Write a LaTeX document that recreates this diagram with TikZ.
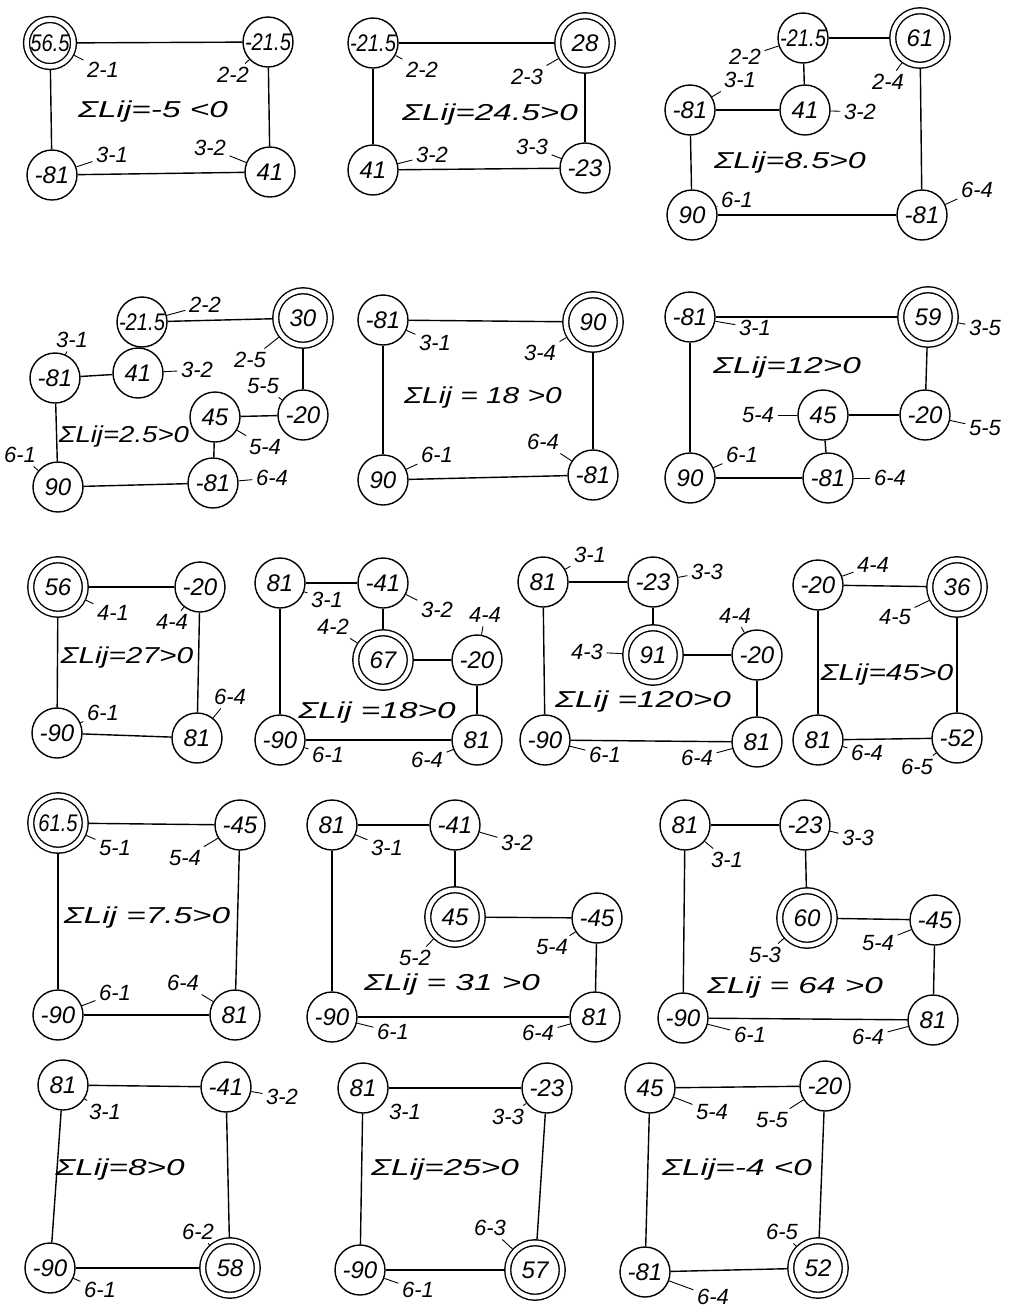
\documentclass[tikz,border=0pt]{standalone}
\usepackage{fontspec}
\setmainfont{Liberation Sans}
\usetikzlibrary{positioning}
\newcommand{\suml}[2][1.45]{\scalebox{#1}[1]{ΣLij#2}}
\newcommand{\narrow}[1]{\scalebox{0.84}[1]{#1}}

\begin{document}
\begin{tikzpicture}[x=1pt, y=-1pt, line width=1.4pt,
    every node/.style={font=\fontsize{22}{24}\selectfont\itshape, inner sep=2pt},
    vtx/.style={circle, draw, minimum size=50pt, inner sep=0pt, font=\fontsize{24}{26}\selectfont\itshape},
    dbl/.style={circle, draw, double, double distance=4.5pt, minimum size=54.5pt, inner sep=0pt, outer sep=3.6pt, font=\fontsize{24}{26}\selectfont\itshape},
    lbl/.style={inner sep=3pt},
    sumtxt/.style={inner sep=1pt, font=\fontsize{23}{25}\selectfont\itshape},
    leader/.style={line width=0.9pt}]
    \useasboundingbox (0,0) rectangle (1010,1310);

    % ---------- Row 1 ----------
    % Nodes
    \node[dbl, minimum size=47pt] (d1a) at (50,43) {\narrow{56.5}};
    \node[vtx] (d1b) at (268,42) {\narrow{-21.5}};
    \node[vtx] (d1c) at (52,175) {-81};
    \node[vtx] (d1d) at (270,172) {41};
    \draw (d1a) -- (d1b); \draw (d1a) -- (d1c);
    \draw (d1b) -- (d1d); \draw (d1c) -- (d1d);
    \node[lbl] (d1t1) at (103,70) {2-1};
    \node[lbl] (d1t2) at (233,75) {2-2};
    \node[lbl] (d1t3) at (112,155) {3-1};
    \node[lbl] (d1t4) at (210,148) {3-2};
    \draw[leader] (d1a) -- (d1t1); \draw[leader] (d1b) -- (d1t2);
    \draw[leader] (d1c) -- (d1t3); \draw[leader] (d1d) -- (d1t4);
    \node[sumtxt] (d1s) at (153,112) {\suml{=-5 <0}};

    \node[vtx] (d2a) at (373,43) {\narrow{-21.5}};
    \node[dbl] (d2b) at (585,43) {28};
    \node[vtx] (d2c) at (373,170) {41};
    \node[vtx] (d2d) at (585,168) {-23};
    \draw (d2a) -- (d2b); \draw (d2a) -- (d2c);
    \draw (d2b) -- (d2d); \draw (d2c) -- (d2d);
    \node[lbl] (d2t1) at (422,70) {2-2};
    \node[lbl] (d2t2) at (527,77) {2-3};
    \node[lbl] (d2t3) at (432,155) {3-2};
    \node[lbl] (d2t4) at (532,147) {3-3};
    \draw[leader] (d2a) -- (d2t1); \draw[leader] (d2b) -- (d2t2);
    \draw[leader] (d2c) -- (d2t3); \draw[leader] (d2d) -- (d2t4);
    \node[sumtxt] (d2s) at (490,115) {\suml{=24.5>0}};

    \node[vtx] (d3a) at (803,38) {\narrow{-21.5}};
    \node[dbl] (d3b) at (920,38) {61};
    \node[vtx] (d3c) at (690,110) {-81};
    \node[vtx] (d3d) at (805,110) {41};
    \node[vtx] (d3e) at (692,215) {90};
    \node[vtx] (d3f) at (922,215) {-81};
    \draw (d3a) -- (d3b); \draw (d3a) -- (d3d);
    \draw (d3c) -- (d3d); \draw (d3c) -- (d3e);
    \draw (d3e) -- (d3f); \draw (d3b) -- (d3f);
    \node[lbl] (d3t1) at (745,57) {2-2};
    \node[lbl] (d3t2) at (888,82) {2-4};
    \node[lbl] (d3t3) at (740,80) {3-1};
    \node[lbl] (d3t4) at (860,112) {3-2};
    \node[lbl] (d3t5) at (737,200) {6-1};
    \node[lbl] (d3t6) at (977,190) {6-4};
    \draw[leader] (d3a) -- (d3t1); \draw[leader] (d3b) -- (d3t2);
    \draw[leader] (d3c) -- (d3t3); \draw[leader] (d3d) -- (d3t4);
    \draw[leader] (d3e) -- (d3t5); \draw[leader] (d3f) -- (d3t6);
    \node[sumtxt] (d3s) at (790,163) {\suml[1.4]{=8.5>0}};

    % ---------- Row 2 ----------
    \node[vtx] (d4a) at (142,322) {\narrow{-21.5}};
    \node[dbl] (d4b) at (303,318) {30};
    \node[vtx] (d4c) at (55,378) {-81};
    \node[vtx] (d4d) at (138,373) {41};
    \node[vtx] (d4e) at (215,417) {45};
    \node[vtx] (d4f) at (303,415) {-20};
    \node[vtx] (d4g) at (58,487) {90};
    \node[vtx] (d4h) at (213,483) {-81};
    \draw (d4a) -- (d4b); \draw (d4a) -- (d4d);
    \draw (d4c) -- (d4d); \draw (d4c) -- (d4g);
    \draw (d4b) -- (d4f); \draw (d4e) -- (d4f);
    \draw (d4e) -- (d4h); \draw (d4g) -- (d4h);
    \node[lbl] (d4t1) at (205,305) {2-2};
    \node[lbl] (d4t2) at (72,340) {3-1};
    \node[lbl] (d4t3) at (197,370) {3-2};
    \node[lbl] (d4t4) at (250,360) {2-5};
    \node[lbl] (d4t5) at (263,386) {5-5};
    \node[lbl] (d4t6) at (265,447) {5-4};
    \node[lbl] (d4t7) at (20,455) {6-1};
    \node[lbl] (d4t8) at (272,478) {6-4};
    \draw[leader] (d4a) -- (d4t1); \draw[leader] (d4c) -- (d4t2);
    \draw[leader] (d4d) -- (d4t3); \draw[leader] (d4b) -- (d4t4);
    \draw[leader] (d4f) -- (d4t5); \draw[leader] (d4e) -- (d4t6);
    \draw[leader] (d4g) -- (d4t7); \draw[leader] (d4h) -- (d4t8);
    \node[sumtxt] (d4s) at (124,437) {\suml[1.2]{=2.5>0}};

    \node[vtx] (d5a) at (383,320) {-81};
    \node[dbl] (d5b) at (593,322) {90};
    \node[vtx] (d5c) at (383,480) {90};
    \node[vtx] (d5d) at (593,475) {-81};
    \draw (d5a) -- (d5b); \draw (d5a) -- (d5c);
    \draw (d5b) -- (d5d); \draw (d5c) -- (d5d);
    \node[lbl] (d5t1) at (435,343) {3-1};
    \node[lbl] (d5t2) at (540,353) {3-4};
    \node[lbl] (d5t3) at (437,455) {6-1};
    \node[lbl] (d5t4) at (543,442) {6-4};
    \draw[leader] (d5a) -- (d5t1); \draw[leader] (d5b) -- (d5t2);
    \draw[leader] (d5c) -- (d5t3); \draw[leader] (d5d) -- (d5t4);
    \node[sumtxt] (d5s) at (483,398) {\suml[1.3]{ = 18 >0}};

    \node[vtx] (d6a) at (690,317) {-81};
    \node[dbl] (d6b) at (928,317) {59};
    \node[vtx] (d6c) at (823,415) {45};
    \node[vtx] (d6d) at (925,415) {-20};
    \node[vtx] (d6e) at (690,478) {90};
    \node[vtx] (d6f) at (828,478) {-81};
    \draw (d6a) -- (d6b); \draw (d6a) -- (d6e);
    \draw (d6b) -- (d6d); \draw (d6c) -- (d6d);
    \draw (d6c) -- (d6f); \draw (d6e) -- (d6f);
    \node[lbl] (d6t1) at (755,328) {3-1};
    \node[lbl] (d6t2) at (985,328) {3-5};
    \node[lbl] (d6t3) at (758,415) {5-4};
    \node[lbl] (d6t4) at (985,428) {5-5};
    \node[lbl] (d6t5) at (742,455) {6-1};
    \node[lbl] (d6t6) at (890,478) {6-4};
    \draw[leader] (d6a) -- (d6t1); \draw[leader] (d6b) -- (d6t2);
    \draw[leader] (d6c) -- (d6t3); \draw[leader] (d6d) -- (d6t4);
    \draw[leader] (d6e) -- (d6t5); \draw[leader] (d6f) -- (d6t6);
    \node[sumtxt] (d6s) at (787,368) {\suml{=12>0}};

    % ---------- Row 3 ----------
    \node[dbl] (d7a) at (58,587) {56};
    \node[vtx] (d7b) at (200,587) {-20};
    \node[vtx] (d7c) at (57,733) {-90};
    \node[vtx] (d7d) at (197,738) {81};
    \draw (d7a) -- (d7b); \draw (d7a) -- (d7c);
    \draw (d7b) -- (d7d); \draw (d7c) -- (d7d);
    \node[lbl] (d7t1) at (113,613) {4-1};
    \node[lbl] (d7t2) at (172,622) {4-4};
    \node[lbl] (d7t3) at (103,713) {6-1};
    \node[lbl] (d7t4) at (230,697) {6-4};
    \draw[leader] (d7a) -- (d7t1); \draw[leader] (d7b) -- (d7t2);
    \draw[leader] (d7c) -- (d7t3); \draw[leader] (d7d) -- (d7t4);
    \node[sumtxt] (d7s) at (127,658) {\suml[1.3]{=27>0}};

    \node[vtx] (d8a) at (280,583) {81};
    \node[vtx] (d8b) at (383,583) {-41};
    \node[dbl] (d8c) at (383,660) {67};
    \node[vtx] (d8d) at (477,660) {-20};
    \node[vtx] (d8e) at (280,740) {-90};
    \node[vtx] (d8f) at (477,740) {81};
    \draw (d8a) -- (d8b); \draw (d8b) -- (d8c);
    \draw (d8c) -- (d8d); \draw (d8d) -- (d8f);
    \draw (d8a) -- (d8e); \draw (d8e) -- (d8f);
    \node[lbl] (d8t1) at (327,600) {3-1};
    \node[lbl] (d8t2) at (437,610) {3-2};
    \node[lbl] (d8t3) at (333,627) {4-2};
    \node[lbl] (d8t4) at (485,615) {4-4};
    \node[lbl] (d8t5) at (328,755) {6-1};
    \node[lbl] (d8t6) at (427,760) {6-4};
    \draw[leader] (d8a) -- (d8t1); \draw[leader] (d8b) -- (d8t2);
    \draw[leader] (d8c) -- (d8t3); \draw[leader] (d8d) -- (d8t4);
    \draw[leader] (d8e) -- (d8t5); \draw[leader] (d8f) -- (d8t6);
    \node[sumtxt] (d8s) at (377,713) {\suml{ =18>0}};

    \node[vtx] (d9a) at (543,582) {81};
    \node[vtx] (d9b) at (653,582) {-23};
    \node[dbl] (d9c) at (653,655) {91};
    \node[vtx] (d9d) at (757,655) {-20};
    \node[vtx] (d9e) at (545,740) {-90};
    \node[vtx] (d9f) at (757,742) {81};
    \draw (d9a) -- (d9b); \draw (d9b) -- (d9c);
    \draw (d9c) -- (d9d); \draw (d9d) -- (d9f);
    \draw (d9a) -- (d9e); \draw (d9e) -- (d9f);
    \node[lbl] (d9t1) at (590,555) {3-1};
    \node[lbl] (d9t2) at (707,572) {3-3};
    \node[lbl] (d9t3) at (587,652) {4-3};
    \node[lbl] (d9t4) at (735,616) {4-4};
    \node[lbl] (d9t5) at (605,755) {6-1};
    \node[lbl] (d9t6) at (697,758) {6-4};
    \draw[leader] (d9a) -- (d9t1); \draw[leader] (d9b) -- (d9t2);
    \draw[leader] (d9c) -- (d9t3); \draw[leader] (d9d) -- (d9t4);
    \draw[leader] (d9e) -- (d9t5); \draw[leader] (d9f) -- (d9t6);
    \node[sumtxt] (d9s) at (643,702) {\suml{ =120>0}};

    \node[vtx] (d10a) at (818,585) {-20};
    \node[dbl] (d10b) at (957,587) {36};
    \node[vtx] (d10c) at (818,740) {81};
    \node[vtx] (d10d) at (957,738) {-52};
    \draw (d10a) -- (d10b); \draw (d10a) -- (d10c);
    \draw (d10b) -- (d10d); \draw (d10c) -- (d10d);
    \node[lbl] (d10t1) at (873,565) {4-4};
    \node[lbl] (d10t2) at (895,617) {4-5};
    \node[lbl] (d10t3) at (867,753) {6-4};
    \node[lbl] (d10t4) at (917,767) {6-5};
    \draw[leader] (d10a) -- (d10t1); \draw[leader] (d10b) -- (d10t2);
    \draw[leader] (d10c) -- (d10t3); \draw[leader] (d10d) -- (d10t4);
    \node[sumtxt] (d10s) at (887,675) {\suml[1.3]{=45>0}};

    % ---------- Row 4 ----------
    \node[dbl] (d11a) at (58,823) {\narrow{61.5}};
    \node[vtx] (d11b) at (240,825) {-45};
    \node[vtx] (d11c) at (58,1015) {-90};
    \node[vtx] (d11d) at (235,1015) {81};
    \draw (d11a) -- (d11b); \draw (d11a) -- (d11c);
    \draw (d11b) -- (d11d); \draw (d11c) -- (d11d);
    \node[lbl] (d11t1) at (115,848) {5-1};
    \node[lbl] (d11t2) at (185,858) {5-4};
    \node[lbl] (d11t3) at (115,993) {6-1};
    \node[lbl] (d11t4) at (183,983) {6-4};
    \draw[leader] (d11a) -- (d11t1); \draw[leader] (d11b) -- (d11t2);
    \draw[leader] (d11c) -- (d11t3); \draw[leader] (d11d) -- (d11t4);
    \node[sumtxt] (d11s) at (147,918) {\suml{ =7.5>0}};

    \node[vtx] (d12a) at (332,825) {81};
    \node[vtx] (d12b) at (455,825) {-41};
    \node[dbl] (d12c) at (455,917) {45};
    \node[vtx] (d12d) at (597,918) {-45};
    \node[vtx] (d12e) at (332,1017) {-90};
    \node[vtx] (d12f) at (595,1017) {81};
    \draw (d12a) -- (d12b); \draw (d12b) -- (d12c);
    \draw (d12c) -- (d12d); \draw (d12d) -- (d12f);
    \draw (d12a) -- (d12e); \draw (d12e) -- (d12f);
    \node[lbl] (d12t1) at (387,848) {3-1};
    \node[lbl] (d12t2) at (517,843) {3-2};
    \node[lbl] (d12t3) at (415,958) {5-2};
    \node[lbl] (d12t4) at (552,947) {5-4};
    \node[lbl] (d12t5) at (393,1032) {6-1};
    \node[lbl] (d12t6) at (538,1033) {6-4};
    \draw[leader] (d12a) -- (d12t1); \draw[leader] (d12b) -- (d12t2);
    \draw[leader] (d12c) -- (d12t3); \draw[leader] (d12d) -- (d12t4);
    \draw[leader] (d12e) -- (d12t5); \draw[leader] (d12f) -- (d12t6);
    \node[sumtxt] (d12s) at (452,985) {\suml{ = 31 >0}};

    \node[vtx] (d13a) at (685,825) {81};
    \node[vtx] (d13b) at (805,825) {-23};
    \node[dbl] (d13c) at (807,918) {60};
    \node[vtx] (d13d) at (935,920) {-45};
    \node[vtx] (d13e) at (683,1018) {-90};
    \node[vtx] (d13f) at (933,1020) {81};
    \draw (d13a) -- (d13b); \draw (d13b) -- (d13c);
    \draw (d13c) -- (d13d); \draw (d13d) -- (d13f);
    \draw (d13a) -- (d13e); \draw (d13e) -- (d13f);
    \node[lbl] (d13t1) at (727,860) {3-1};
    \node[lbl] (d13t2) at (858,838) {3-3};
    \node[lbl] (d13t3) at (765,955) {5-3};
    \node[lbl] (d13t4) at (878,943) {5-4};
    \node[lbl] (d13t5) at (750,1035) {6-1};
    \node[lbl] (d13t6) at (868,1037) {6-4};
    \draw[leader] (d13a) -- (d13t1); \draw[leader] (d13b) -- (d13t2);
    \draw[leader] (d13c) -- (d13t3); \draw[leader] (d13d) -- (d13t4);
    \draw[leader] (d13e) -- (d13t5); \draw[leader] (d13f) -- (d13t6);
    \node[sumtxt] (d13s) at (795,988) {\suml{ = 64 >0}};

    % ---------- Row 5 ----------
    \node[vtx] (d14a) at (63,1085) {81};
    \node[vtx] (d14b) at (226,1087) {-41};
    \node[vtx] (d14c) at (50,1268) {-90};
    \node[dbl] (d14d) at (230,1268) {58};
    \draw (d14a) -- (d14b); \draw (d14a) -- (d14c);
    \draw (d14b) -- (d14d); \draw (d14c) -- (d14d);
    \node[lbl] (d14t1) at (105,1112) {3-1};
    \node[lbl] (d14t2) at (282,1097) {3-2};
    \node[lbl] (d14t3) at (198,1232) {6-2};
    \node[lbl] (d14t4) at (100,1290) {6-1};
    \draw[leader] (d14a) -- (d14t1); \draw[leader] (d14b) -- (d14t2);
    \draw[leader] (d14d) -- (d14t3); \draw[leader] (d14c) -- (d14t4);
    \node[sumtxt] (d14s) at (120,1170) {\suml{=8>0}};

    \node[vtx] (d15a) at (363,1088) {81};
    \node[vtx] (d15b) at (547,1088) {-23};
    \node[vtx] (d15c) at (360,1270) {-90};
    \node[dbl] (d15d) at (535,1270) {57};
    \draw (d15a) -- (d15b); \draw (d15a) -- (d15c);
    \draw (d15b) -- (d15d); \draw (d15c) -- (d15d);
    \node[lbl] (d15t1) at (405,1112) {3-1};
    \node[lbl] (d15t2) at (508,1117) {3-3};
    \node[lbl] (d15t3) at (490,1228) {6-3};
    \node[lbl] (d15t4) at (418,1290) {6-1};
    \draw[leader] (d15a) -- (d15t1); \draw[leader] (d15b) -- (d15t2);
    \draw[leader] (d15d) -- (d15t3); \draw[leader] (d15c) -- (d15t4);
    \node[sumtxt] (d15s) at (445,1170) {\suml{=25>0}};

    \node[vtx] (d16a) at (650,1088) {45};
    \node[vtx] (d16b) at (825,1086) {-20};
    \node[vtx] (d16c) at (645,1272) {-81};
    \node[dbl] (d16d) at (818,1268) {52};
    \draw (d16a) -- (d16b); \draw (d16a) -- (d16c);
    \draw (d16b) -- (d16d); \draw (d16c) -- (d16d);
    \node[lbl] (d16t1) at (712,1112) {5-4};
    \node[lbl] (d16t2) at (772,1120) {5-5};
    \node[lbl] (d16t3) at (782,1232) {6-5};
    \node[lbl] (d16t4) at (713,1297) {6-4};
    \draw[leader] (d16a) -- (d16t1); \draw[leader] (d16b) -- (d16t2);
    \draw[leader] (d16d) -- (d16t3); \draw[leader] (d16c) -- (d16t4);
    \node[sumtxt] (d16s) at (737,1170) {\suml{=-4 <0}};
\end{tikzpicture}
\end{document}
